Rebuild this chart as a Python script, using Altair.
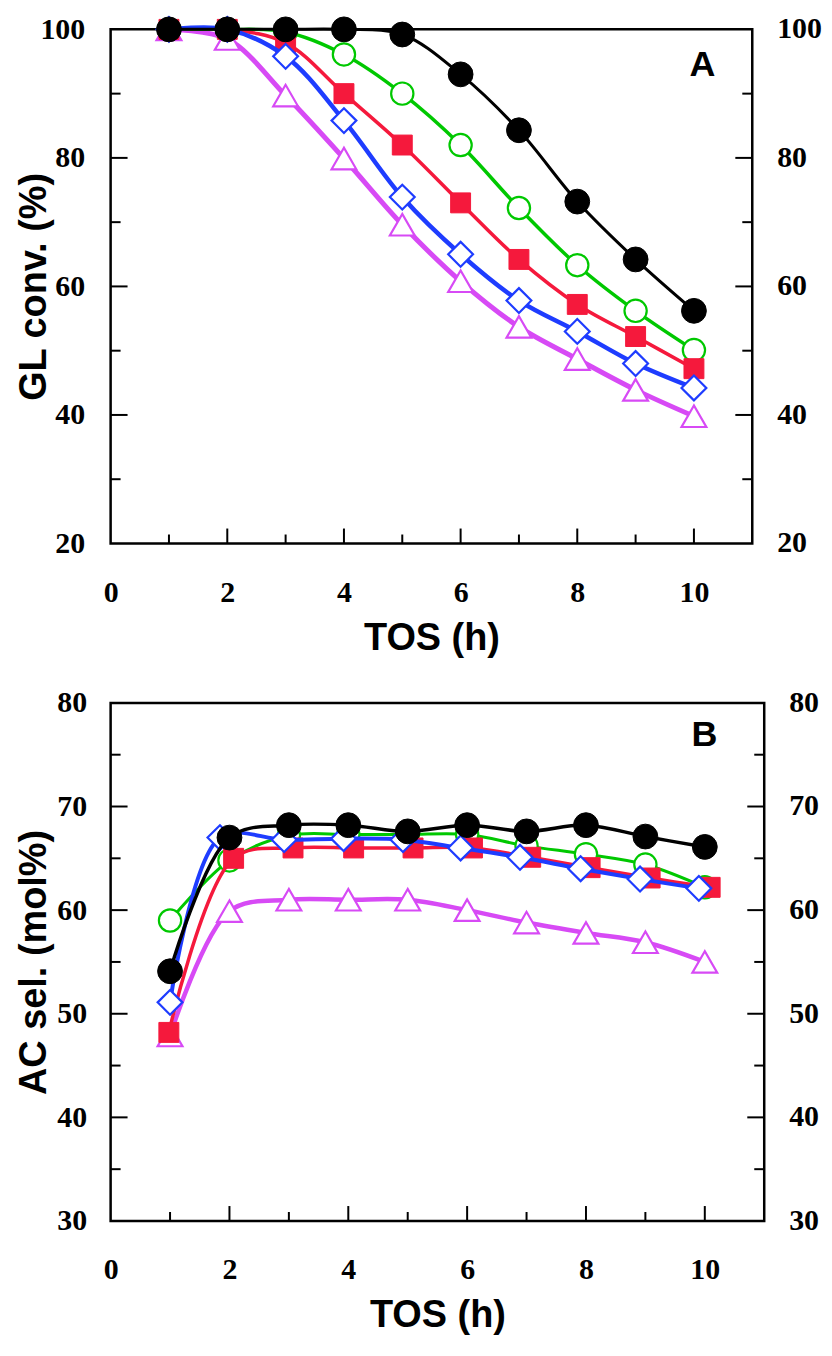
import altair as alt
import pandas as pd

# ---------------- data ----------------
TOS = [1, 2, 3, 4, 5, 6, 7, 8, 9, 10]
TOS_B_RED = [0.98, 2.07, 3.07, 4.09, 5.09, 6.09, 7.07, 8.07, 9.08, 10.09]
TOS_B_BLUE = [1.0, 1.84, 2.92, 3.92, 4.92, 5.89, 6.89, 7.91, 8.91, 9.90]

SERIES = ["black", "green", "red", "blue", "magenta"]

GL_BLACK = [100, 100, 100, 100, 99.2, 93.0, 84.3, 73.2, 64.2, 56.2]
GL_GREEN = [100, 100, 99.6, 96.1, 90.0, 82.0, 72.2, 63.3, 56.2, 50.1]
GL_RED = [100, 100, 97.9, 90.0, 82.0, 73.0, 64.2, 57.2, 52.2, 47.2]
GL_BLUE = [100, 100, 95.8, 85.8, 73.9, 65.0, 57.8, 53.0, 48.0, 44.2]
GL_MAGENTA = [100, 98.5, 89.7, 79.9, 69.6, 60.8, 53.7, 48.7, 43.9, 39.8]

AC_BLACK = [54.1, 67.0, 68.2, 68.2, 67.6, 68.2, 67.6, 68.2, 67.1, 66.1]
AC_GREEN = [59.0, 64.8, 67.2, 67.3, 67.3, 67.3, 66.2, 65.4, 64.4, 62.2]
AC_RED = [48.2, 65.0, 66.0, 66.0, 66.0, 66.0, 65.1, 64.1, 63.1, 62.2]
AC_BLUE = [51.1, 67.0, 66.8, 66.9, 66.8, 66.0, 65.1, 64.0, 63.0, 62.1]
AC_MAGENTA = [47.9, 59.9, 61.0, 61.0, 61.0, 60.0, 58.8, 57.8, 56.9, 55.0]

X_LABELS = [0, 2, 4, 6, 8, 10]
X_MAJOR = [2, 4, 6, 8, 10]
X_MINOR = [1, 3, 5, 7, 9]

A_Y_LABELS = [20, 40, 60, 80, 100]
A_Y_MAJOR = [40, 60, 80]
A_Y_MINOR = [30, 50, 70, 90]

B_Y_LABELS = [30, 40, 50, 60, 70, 80]
B_Y_MAJOR = [40, 50, 60, 70]
B_Y_MINOR = [35, 45, 55, 65, 75]

# ---------------- styles ----------------
STYLE = {
    "black":   dict(color="#000000", shape="circle", size=620, fill="#000000", sw=1.0),
    "green":   dict(color="#00C800", shape="circle", size=500, fill="#FFFFFF", sw=2.2),
    "red":     dict(color="#F5193C", shape="square", size=400, fill="#F5193C", sw=1.0),
    "blue":    dict(color="#1E3CFF", shape="diamond", size=620, fill="#FFFFFF", sw=2.2),
    "magenta": dict(color="#D74AF5", shape="triangle-up", size=620, fill="#FFFFFF", sw=2.2),
}
DRAW_ORDER = ["magenta", "green", "red", "blue", "black"]

LABEL_FONT = "Liberation Serif"
TITLE_FONT = "Liberation Sans"


def long_df(xs_by_series, ys_by_series):
    rows = []
    for s in SERIES:
        for xv, yv in zip(xs_by_series[s], ys_by_series[s]):
            rows.append({"series": s, "x": xv, "y": yv})
    return pd.DataFrame(rows)


df_a = long_df(
    {s: TOS for s in SERIES},
    {"black": GL_BLACK, "green": GL_GREEN, "red": GL_RED, "blue": GL_BLUE, "magenta": GL_MAGENTA},
)
df_b = long_df(
    {"black": TOS, "green": TOS, "red": TOS_B_RED, "blue": TOS_B_BLUE, "magenta": TOS},
    {"black": AC_BLACK, "green": AC_GREEN, "red": AC_RED, "blue": AC_BLUE, "magenta": AC_MAGENTA},
)

LINE_W_A = {"black": 3.0, "green": 3.5, "red": 3.5, "blue": 4.5, "magenta": 5.0}
LINE_W_B = {"black": 3.5, "green": 3.0, "red": 3.5, "blue": 4.0, "magenta": 4.5}


def panel(df, W, H, ydom, ytitle, ylabels, ymaj, ymin, letter, letter_dx, letter_dy,
          line_w, title_pad, lab_pad_l, lab_pad_r):
    xs = alt.Scale(domain=[0, 11], nice=False, zero=False)
    ys = alt.Scale(domain=ydom, nice=False, zero=False)

    common_axis = dict(domain=False, ticks=False, grid=False,
                       labelFont=LABEL_FONT, labelFontWeight="bold", labelFontSize=30,
                       labelColor="black", titleFont=TITLE_FONT, titleFontSize=38,
                       titleFontWeight="bold", titleColor="black")

    x_axis = alt.Axis(values=X_LABELS, title="TOS (h)", labelPadding=34, titlePadding=12,
                      labelFlush=False, **common_axis)
    y_axis = alt.Axis(values=ylabels, title=ytitle, orient="left", labelPadding=lab_pad_l,
                      titlePadding=title_pad, labelFlush=False, **common_axis)

    X = lambda: alt.X("x:Q", scale=xs, axis=x_axis)
    Y = lambda: alt.Y("y:Q", scale=ys, axis=y_axis)

    layers = []
    # bottom ticks (inward)
    layers.append(alt.Chart(pd.DataFrame({"x": X_MAJOR})).mark_rule(color="black", strokeWidth=2).encode(
        x=X(), y=alt.value(H), y2=alt.value(H - 15)))
    layers.append(alt.Chart(pd.DataFrame({"x": X_MINOR})).mark_rule(color="black", strokeWidth=2).encode(
        x=X(), y=alt.value(H), y2=alt.value(H - 9)))
    # left ticks
    layers.append(alt.Chart(pd.DataFrame({"y": ymaj})).mark_rule(color="black", strokeWidth=2).encode(
        y=Y(), x=alt.value(0), x2=alt.value(17)))
    layers.append(alt.Chart(pd.DataFrame({"y": ymin})).mark_rule(color="black", strokeWidth=2).encode(
        y=Y(), x=alt.value(0), x2=alt.value(10)))
    # right ticks
    layers.append(alt.Chart(pd.DataFrame({"y": ymaj})).mark_rule(color="black", strokeWidth=2).encode(
        y=Y(), x=alt.value(W), x2=alt.value(W - 17)))
    layers.append(alt.Chart(pd.DataFrame({"y": ymin})).mark_rule(color="black", strokeWidth=2).encode(
        y=Y(), x=alt.value(W), x2=alt.value(W - 10)))
    # right-side tick labels
    layers.append(alt.Chart(pd.DataFrame({"y": ylabels})).mark_text(
        font=LABEL_FONT, fontWeight="bold", fontSize=30, color="black",
        align="left", baseline="middle").encode(
        y=Y(), x=alt.value(W + lab_pad_r), text="y:Q"))

    for s in DRAW_ORDER:
        st = STYLE[s]
        base = alt.Chart(df).transform_filter(alt.datum.series == s)
        layers.append(base.mark_line(color=st["color"], strokeWidth=line_w[s],
                                     interpolate="catmull-rom").encode(
            x=X(), y=Y(), order="x:Q"))
        layers.append(base.mark_point(shape=st["shape"], size=st["size"], filled=True,
                                      fill=st["fill"], stroke=st["color"],
                                      strokeWidth=st["sw"], opacity=1).encode(
            x=X(), y=Y()))

    layers.append(alt.Chart(pd.DataFrame({"label": [letter]})).mark_text(
        font=TITLE_FONT, fontWeight="bold", fontSize=36, color="black",
        align="center", baseline="middle").encode(
        x=alt.value(W - letter_dx), y=alt.value(letter_dy), text="label:N"))

    return alt.layer(*layers).properties(width=W, height=H)


chart_a = panel(df_a, 644, 516, [20, 100], "GL conv. (%)", A_Y_LABELS, A_Y_MAJOR, A_Y_MINOR,
                "A", 50, 36, LINE_W_A, -14, 26, 25)
chart_b = panel(df_b, 656, 520, [30, 80], "AC sel. (mol%)", B_Y_LABELS, B_Y_MAJOR, B_Y_MINOR,
                "B", 60, 32, LINE_W_B, 3, 24, 25)

chart = alt.vconcat(chart_a, chart_b, spacing=27).properties(
    padding={"left": 6, "top": 0, "right": 0, "bottom": 0}
).configure_view(stroke="black", strokeWidth=2.5)

chart.save("out.html", embed_options={"renderer": "svg", "actions": False})
